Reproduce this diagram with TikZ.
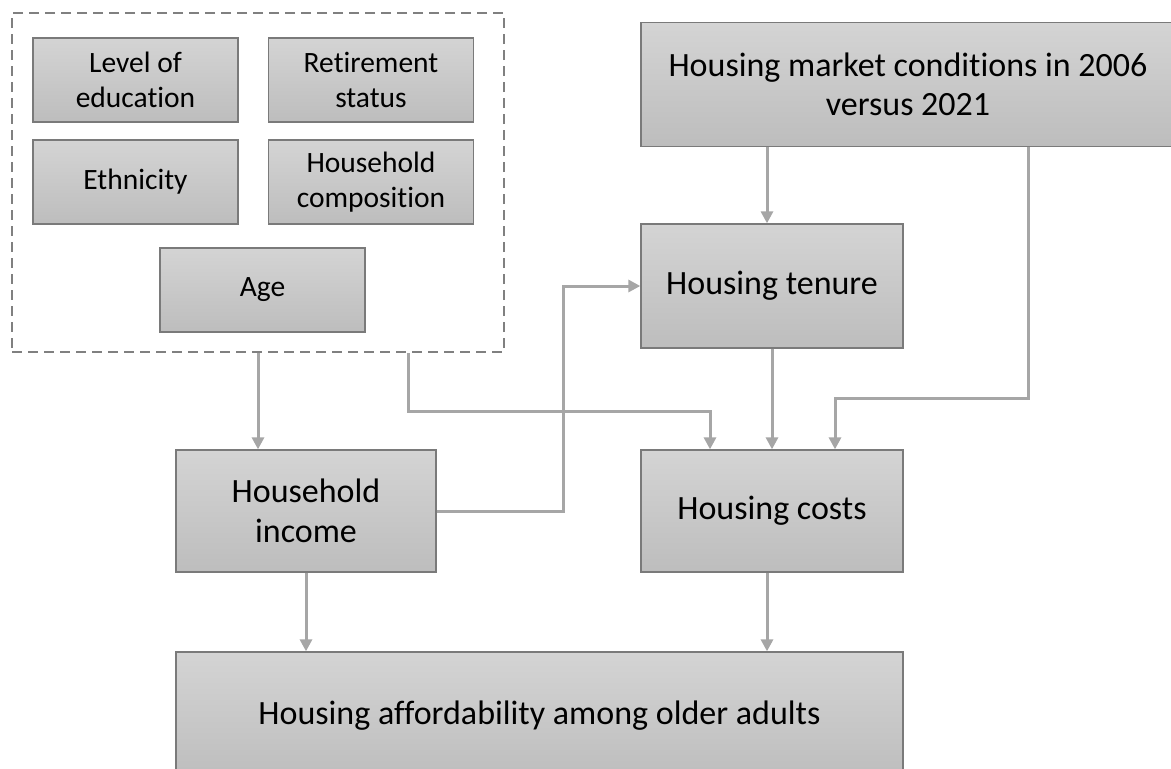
\documentclass[tikz,border=0pt]{standalone}
\usepackage{fontspec}
\setmainfont{Carlito}[Ligatures=NoCommon]
\usetikzlibrary{arrows.meta}
\definecolor{gTop}{HTML}{D4D4D4}
\definecolor{gBot}{HTML}{BDBDBD}
\definecolor{boxborder}{HTML}{7A7A7A}
\definecolor{arrcol}{HTML}{A6A6A6}
\definecolor{dashcol}{HTML}{808080}
\tikzset{
  box/.style={draw=boxborder, line width=1.3pt, top color=gTop, bottom color=gBot,
    align=center, inner sep=0pt, text=black},
  smallbox/.style={box, minimum width=205pt, minimum height=84pt, font=\fontsize{29.5}{35}\selectfont},
  bigbox/.style={box, font=\fontsize{34}{39.5}\selectfont},
  arr/.style={draw=arrcol, line width=3pt, -{Triangle[length=12pt,width=12pt]}},
  grpbox/.style={draw=dashcol, line width=2pt, dash pattern=on 10pt off 6pt, minimum width=492pt, minimum height=339pt, inner sep=0pt}
}
\begin{document}
\begin{tikzpicture}[x=1pt,y=-1pt]
\useasboundingbox (0,0) rectangle (1171,769);
\node[grpbox] (grp) at (258,182.5) {};
\node[smallbox] (edu) at (135.5,80) {Level of\\education};
\node[smallbox] (ret) at (371,80) {Retirement\\status};
\node[smallbox] (eth) at (135.5,182) {Ethnicity};
\node[smallbox] (comp) at (371,182) {Household\\composition};
\node[smallbox] (age) at (262.5,290) {Age};
\node[bigbox, minimum width=534pt, minimum height=124pt] (market) at (908,84.5) {Housing market conditions in 2006\\versus 2021};
\node[bigbox, minimum width=262pt, minimum height=124pt] (tenure) at (772,286) {Housing tenure};
\node[bigbox, minimum width=262pt, minimum height=122pt] (costs) at (772,511) {Housing costs};
\node[bigbox, minimum width=260pt, minimum height=122pt] (income) at (306,511) {Household\\income};
\node[bigbox, minimum width=727pt, minimum height=128pt] (afford) at (539.5,716) {Housing affordability among older adults};

\draw[arr] (grp.south) -- (grp.south |- income.north);
\draw[arr] ([xshift=150pt]grp.south) -- ++(0,58) -| ([xshift=-62pt]costs.north);
\draw[arr] (income.east) -- ++(127,0) |- (tenure.west);
\draw[arr] ([xshift=-5pt]tenure.north |- market.south) -- ([xshift=-5pt]tenure.north);
\draw[arr] ([xshift=120pt]market.south) -- ++(0,251) -| ([xshift=63pt]costs.north);
\draw[arr] (tenure.south) -- (costs.north);
\draw[arr] (income.south) -- (income.south |- afford.north);
\draw[arr] ([xshift=-5pt]costs.south) -- ([xshift=-5pt]costs.south |- afford.north);
\end{tikzpicture}
\end{document}
